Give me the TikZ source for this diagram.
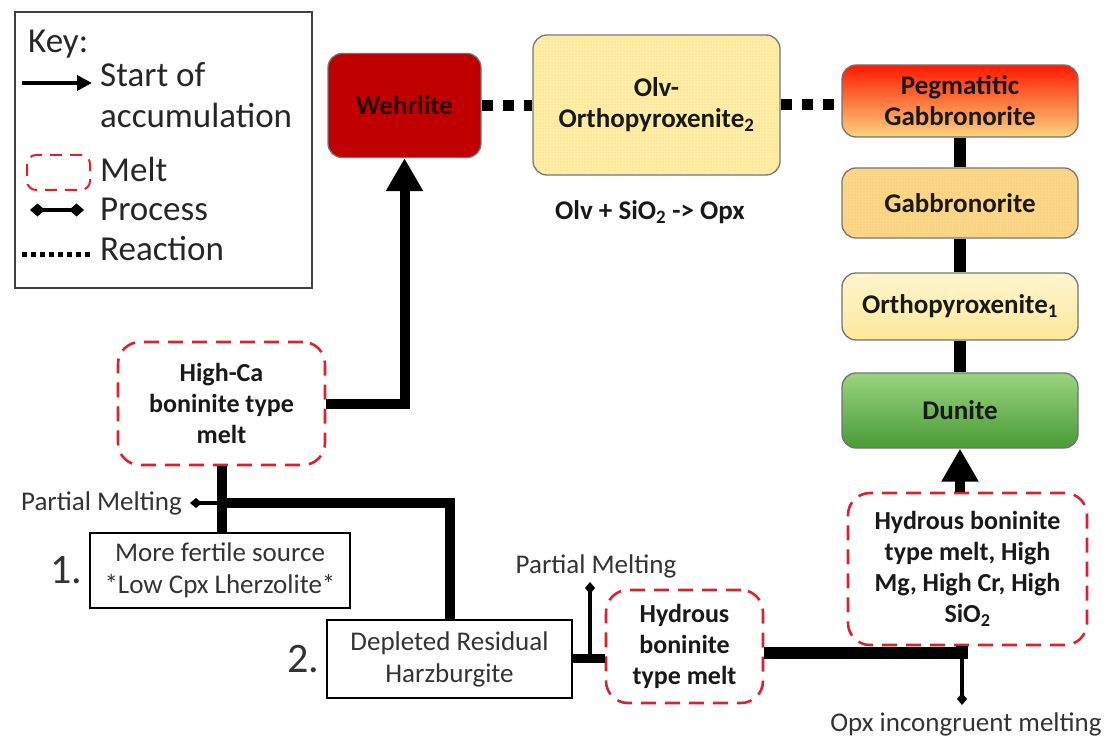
\documentclass[tikz,border=0pt]{standalone}
\usepackage{fontspec}
\setmainfont{Carlito}
\usetikzlibrary{arrows.meta,patterns,positioning}

\definecolor{wehrred}{RGB}{192,0,0}
\definecolor{olvyellow}{RGB}{252,238,165}
\definecolor{pegtop}{RGB}{255,25,0}
\definecolor{pegbottom}{RGB}{250,212,125}
\definecolor{gabbroorange}{RGB}{250,216,135}
\definecolor{opxtop}{RGB}{255,245,205}
\definecolor{opxbottom}{RGB}{252,232,155}
\definecolor{dunitetop}{RGB}{155,212,125}
\definecolor{dunitebottom}{RGB}{72,155,55}
\definecolor{meltred}{RGB}{212,35,50}

\tikzset{
  rock/.style={draw=black!55, line width=1.3pt, rounded corners=14pt, align=center,
    text=black!90, font=\bfseries\fontsize{27}{31}\selectfont},
  melt/.style={draw=meltred, line width=2.6pt, dash pattern=on 15pt off 9pt,
    rounded corners=22pt, align=center, text=black!90, font=\bfseries\fontsize{26}{31}\selectfont},
  source/.style={draw=black, line width=2.6pt, align=center, text=black!80,
    font=\fontsize{27}{32}\selectfont},
  lbl/.style={inner sep=0pt, text=black!80, font=\fontsize{27}{32}\selectfont},
  keytext/.style={inner sep=0pt, anchor=base west, text=black!85, font=\fontsize{35}{41}\selectfont},
  accum/.style={line width=10pt, -{Triangle[length=33pt,width=35pt]}},
  link/.style={line width=10pt},
  process/.style={line width=3.5pt, -{Diamond[length=12pt,width=10pt]}},
  reaction/.style={line width=11pt, dash pattern=on 11pt off 10pt},
}

\begin{document}
\begin{tikzpicture}[x=1pt,y=-1pt]
  \useasboundingbox (0,0) rectangle (1117,741);

  % Key
  \node[draw=black!75, line width=2pt, minimum width=297pt, minimum height=276pt] (key) at (163.5,150) {};
  \node[keytext] (key-title) at (28,53) {Key:};
  \node[keytext] (key-accum) at (100,87) {Start of};
  \node[keytext] (key-accum2) at (100,128) {accumulation};
  \node[keytext] (key-melt) at (100,182) {Melt};
  \node[keytext] (key-process) at (100,220) {Process};
  \node[keytext] (key-reaction) at (100,260) {Reaction};
  \draw[line width=3.5pt, -{Triangle[length=15pt,width=15pt]}] (22,83) -- (92,83);
  \draw[meltred, line width=2pt, dash pattern=on 12pt off 8pt, rounded corners=9pt] (27,155) rectangle (90,190);
  \draw[line width=3.5pt, {Diamond[length=15pt,width=13pt]}-{Diamond[length=15pt,width=13pt]}] (30,210) -- (84,210);
  \draw[line width=5pt, dash pattern=on 5pt off 4pt] (22,254) -- (93,254);

  % Define nodes
  \node[rock, fill=wehrred, text=black!85!red, minimum width=153pt, minimum height=104pt] (wehrlite) at (404.5,105.5) {Wehrlite};
  \node[rock, fill=olvyellow, postaction={pattern=dots, pattern color=orange!45},
        minimum width=247pt, minimum height=140pt] (olv-opx) at (656.5,105) {Olv-\\Orthopyroxenite\textsubscript{2}};
  \node[font=\bfseries\fontsize{27}{31}\selectfont, text=black!90] (olv-reaction) at (650,212) {Olv + SiO\textsubscript{2} -> Opx};

  \node[rock, top color=pegtop, bottom color=pegbottom, minimum width=236pt, minimum height=72pt] (peg-gabbro) at (960,101) {Pegmatitic\\Gabbronorite};
  \node[rock, fill=gabbroorange, postaction={pattern=dots, pattern color=orange!60},
        minimum width=236pt, minimum height=70pt] (gabbronorite) at (960,203) {Gabbronorite};
  \node[rock, top color=opxtop, bottom color=opxbottom, minimum width=236pt, minimum height=67pt] (opx1) at (960,306.5) {Orthopyroxenite\textsubscript{1}};
  \node[rock, top color=dunitetop, bottom color=dunitebottom, minimum width=236pt, minimum height=75pt] (dunite) at (960,410.5) {Dunite};

  \node[melt, minimum width=207pt, minimum height=123pt] (hi-ca) at (221.5,403.5) {High-Ca\\boninite type\\melt};
  \node[source, minimum width=260pt, minimum height=75pt] (fertile) at (220,570.5) {More fertile source\\*Low Cpx Lherzolite*};
  \node[source, minimum width=245pt, minimum height=78pt] (depleted) at (449.5,659) {Depleted Residual\\Harzburgite};
  \node[melt, minimum width=157pt, minimum height=113pt] (hydrous) at (684.5,646.5) {Hydrous\\boninite\\type melt};
  \node[melt, minimum width=239pt, minimum height=152pt] (hydrous-hi) at (967.5,569) {Hydrous boninite\\type melt, High\\Mg, High Cr, High\\SiO\textsubscript{2}};

  \node[lbl, font=\fontsize{42}{48}\selectfont, left=6pt of fertile] (n1) {1.};
  \node[lbl, font=\fontsize{42}{48}\selectfont, left=6pt of depleted] (n2) {2.};

  \coordinate (pm1) at (220,503);
  \coordinate (pm1-end) at (190,503);
  \coordinate (pm2) at (590,658);
  \coordinate (pm2-end) at (590,582);
  \coordinate (j2) at (962,653);
  \coordinate (opx-end) at (962,705);

  \node[lbl, left=8pt of pm1-end] (pm1-label) {Partial Melting};
  \node[lbl, above=4pt of pm2-end, xshift=6pt] (pm2-label) {Partial Melting};
  \node[lbl, below=8pt of opx-end, xshift=4pt] (opx-label) {Opx incongruent melting};

  % Connect the nodes
  \draw[reaction] (wehrlite.east) -- (olv-opx.west |- wehrlite.east);
  \draw[reaction] (olv-opx.east) -- (peg-gabbro.west |- olv-opx.east);
  \draw[line width=12pt] (peg-gabbro) -- (gabbronorite) -- (opx1) -- (dunite);

  \draw[accum] (hi-ca.east) -| (wehrlite.south);
  \draw[link] (hi-ca.south) -- (hi-ca.south |- fertile.north);
  \draw[link] (pm1) -| (depleted.north);
  \draw[process] (pm1) -- (pm1-end);

  \draw[line width=9pt] (depleted.east |- pm2) -- (hydrous.west |- pm2);
  \draw[process] (pm2) -- (pm2-end);
  \draw[line width=12pt] (hydrous.east |- j2) -- (j2) -- (j2 |- hydrous-hi.south);
  \draw[process] (j2) -- (opx-end);
  \draw[accum] (dunite.south |- hydrous-hi.north) -- (dunite.south);

\end{tikzpicture}
\end{document}
